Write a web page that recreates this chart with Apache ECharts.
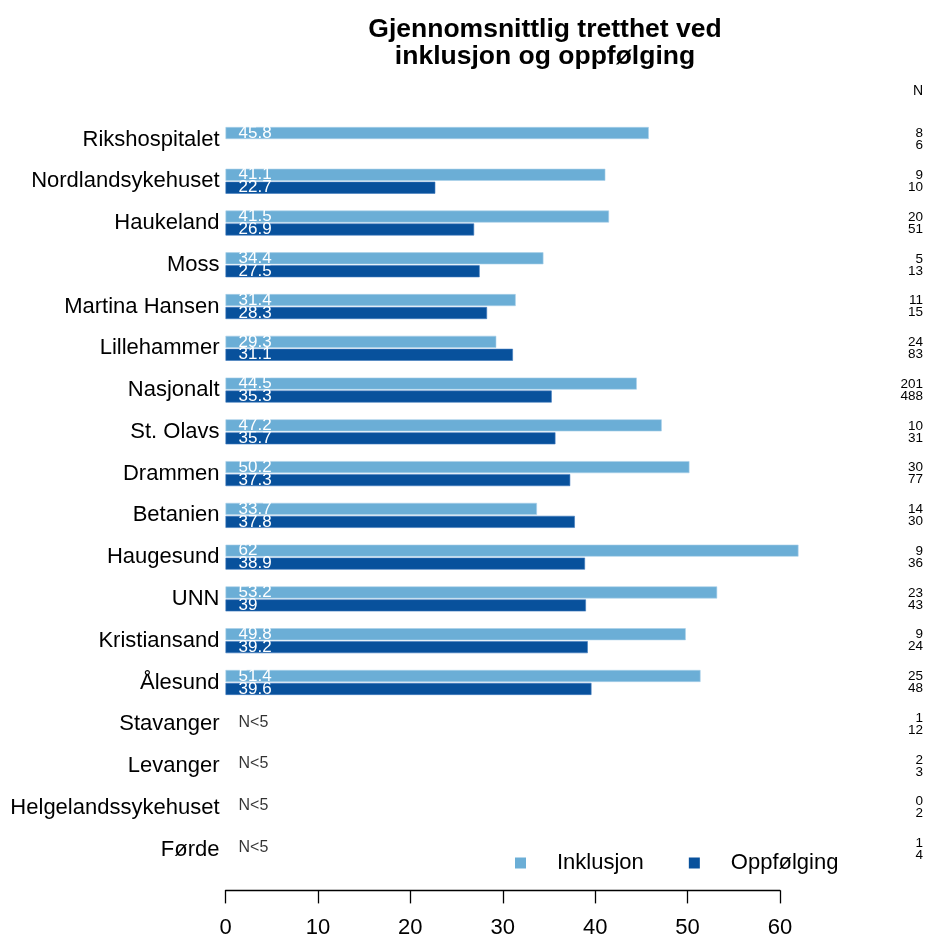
<!DOCTYPE html>
<html>
<head>
<meta charset="utf-8">
<script src="https://cdn.jsdelivr.net/npm/echarts@6/dist/echarts.min.js"></script>
<style>
  html, body { margin: 0; padding: 0; background: #fff; }
  #main { width: 929px; height: 941px; }
</style>
</head>
<body>
<div id="main"></div>
<script>
// sykehus, ovenfra og ned
var categories = ['Rikshospitalet', 'Nordlandsykehuset', 'Haukeland', 'Moss', 'Martina Hansen',
    'Lillehammer', 'Nasjonalt', 'St. Olavs', 'Drammen', 'Betanien', 'Haugesund', 'UNN',
    'Kristiansand', 'Ålesund', 'Stavanger', 'Levanger', 'Helgelandssykehuset', 'Førde'];
var inklusjon = [45.8, 41.1, 41.5, 34.4, 31.4, 29.3, 44.5, 47.2, 50.2, 33.7, 62, 53.2, 49.8, 51.4,
    null, null, null, null];
var oppfolging = [null, 22.7, 26.9, 27.5, 28.3, 31.1, 35.3, 35.7, 37.3, 37.8, 38.9, 39, 39.2, 39.6,
    null, null, null, null];
var nInklusjon = [8, 9, 20, 5, 11, 24, 201, 10, 30, 14, 9, 23, 9, 25, 1, 2, 0, 1];
var nOppfolging = [6, 10, 51, 13, 15, 83, 488, 31, 77, 30, 36, 43, 24, 48, 12, 3, 2, 4];
var xTicks = [0, 10, 20, 30, 40, 50, 60];

var font = 'Liberation Sans, Arial, Helvetica, sans-serif';
var lys = '#6BAED6', mork = '#08519C';

var myChart = echarts.init(document.getElementById('main'));

// rader uten tall får "N<5"
var smaa = [];
categories.forEach(function (c, i) {
    if (inklusjon[i] == null && oppfolging[i] == null) smaa.push([0, c]);
});

var barLabel = {
    show: true,
    position: 'insideLeft',
    distance: 13,
    color: '#fff',
    fontFamily: font,
    fontSize: 17
};

var option = {
    animation: false,
    title: {
        text: 'Gjennomsnittlig tretthet ved\ninklusjon og oppfølging',
        left: 540,
        textAlign: 'center',
        top: 11,
        textStyle: { fontFamily: font, fontSize: 26.5, fontWeight: 'bold', color: '#000', lineHeight: 27 }
    },
    graphic: [{
        type: 'text', right: 6, top: 84,
        style: { text: 'N', fontFamily: font, fontSize: 14, fill: '#000' }
    }],
    legend: {
        data: ['Inklusjon', 'Oppfølging'],
        left: 510, top: 847,
        icon: 'rect', itemWidth: 11, itemHeight: 11, itemGap: 45,
        itemStyle: { borderWidth: 0 },
        textStyle: { fontFamily: font, fontSize: 22, color: '#000', padding: [0, 0, 0, 26] }
    },
    grid: { left: 225.5, right: 149, top: 118.6, bottom: 70.6, containLabel: false },
    xAxis: {
        type: 'value', min: 0, max: 60, interval: 10,
        offset: 20,
        axisLine: { show: true, lineStyle: { color: '#000', width: 1.3 } },
        axisTick: { show: true, length: 13, lineStyle: { color: '#000', width: 1.3 } },
        axisLabel: {
            fontFamily: font, fontSize: 22, color: '#000', margin: 27,
            formatter: function (v) { return xTicks.indexOf(v) >= 0 ? String(v) : ''; }
        },
        splitLine: { show: false }
    },
    yAxis: [{
        type: 'category', data: categories, inverse: true,
        axisLine: { show: false }, axisTick: { show: false },
        axisLabel: { fontFamily: font, fontSize: 22, color: '#000', margin: 6, padding: [0, 0, 2, 0] }
    }, {
        type: 'category', data: categories, inverse: true, position: 'right',
        axisLine: { show: false }, axisTick: { show: false },
        axisLabel: {
            margin: 143, align: 'right', fontFamily: font, fontSize: 13.5, color: '#000', lineHeight: 12,
            formatter: function (v, i) { return nInklusjon[i] + '\n' + nOppfolging[i]; }
        }
    }],
    series: [{
        name: 'Inklusjon', type: 'bar', data: inklusjon,
        barWidth: 12, barGap: '8%', clip: false,
        itemStyle: { color: lys, borderColor: '#a9d0ea', borderWidth: 0.6 },
        label: barLabel
    }, {
        name: 'Oppfølging', type: 'bar', data: oppfolging,
        barWidth: 12, clip: false,
        itemStyle: { color: mork, borderColor: '#3f7bbd', borderWidth: 0.6 },
        label: barLabel
    }, {
        type: 'scatter', data: smaa, symbolSize: 0, silent: true,
        label: {
            show: true, position: 'right', distance: 13, offset: [0, -2],
            formatter: 'N<5', fontFamily: font, fontSize: 16, color: '#000'
        }
    }]
};

myChart.setOption(option);
</script>
</body>
</html>
